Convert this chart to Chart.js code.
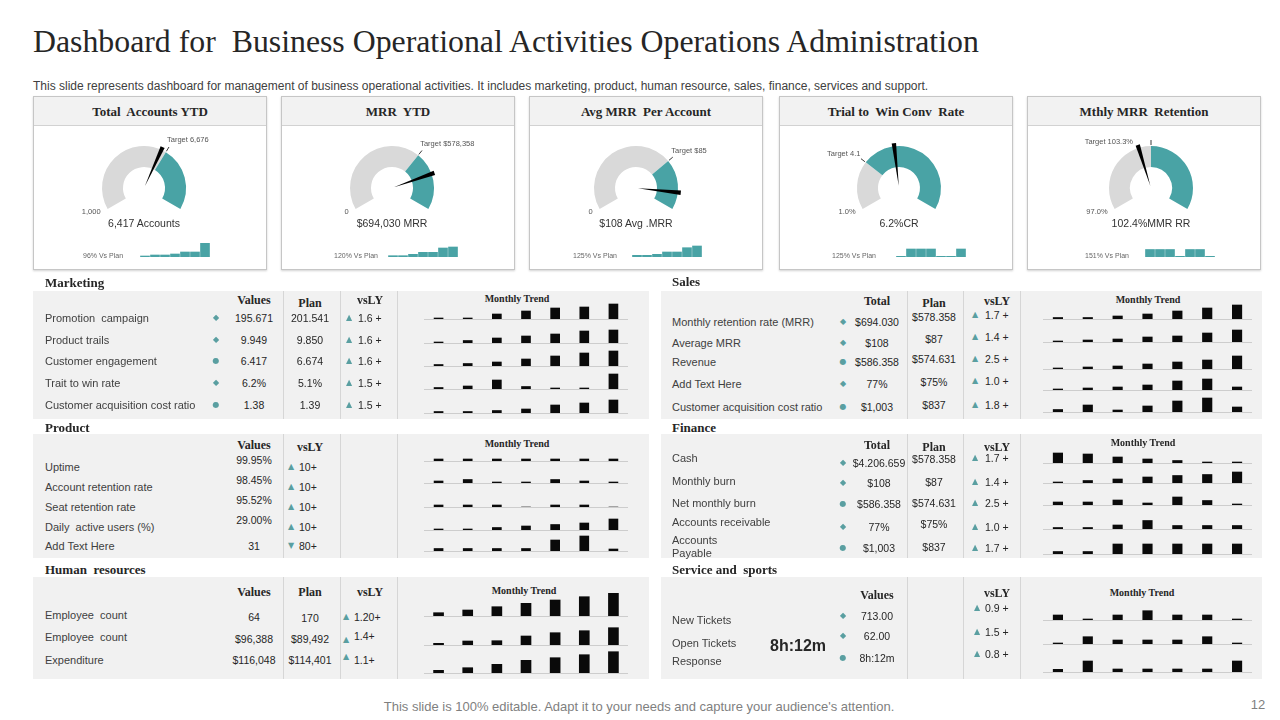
<!DOCTYPE html>
<html>
<head>
<meta charset="utf-8">
<title>Dashboard for Business Operational Activities</title>
<script src="https://cdn.jsdelivr.net/npm/chart.js@4.4.1/dist/chart.umd.min.js"></script>
<style>
  body { margin: 0; background: #fff; }
  #page { position: relative; width: 1280px; height: 720px; overflow: hidden;
          font-family: "Liberation Sans", Arial, sans-serif; color: #404040; }
  .t { position: absolute; white-space: pre; line-height: 1; }
  .h1 { font-family: "Liberation Serif", serif; font-size: 31.8px; color: #262626; }
  .sub { font-size: 12px; color: #404040; }
  .foot { font-size: 13px; color: #7f7f7f; }
  .card { position: absolute; border: 1px solid #c6c6c6; background: #fff; box-shadow: 0 1px 2px rgba(0,0,0,.18); box-sizing: border-box; }
  .cardhead { position: absolute; background: #f2f2f2; border-bottom: 1px solid #d2d2d2; }
  .ct { font-family: "Liberation Serif", serif; font-weight: bold; font-size: 13px; color: #262626; }
  .sec { font-family: "Liberation Serif", serif; font-weight: bold; font-size: 13px; color: #262626; }
  .hd { font-family: "Liberation Serif", serif; font-weight: bold; font-size: 12px; color: #262626; }
  .mt { font-family: "Liberation Serif", serif; font-weight: bold; font-size: 10px; color: #262626; }
  .lbl { font-size: 11px; color: #404040; }
  .num { font-size: 10.5px; color: #262626; }
  .big { font-size: 16px; font-weight: bold; color: #262626; }
  .mk { font-family: "DejaVu Sans", sans-serif; font-size: 8px; color: #5a9fa1; }
  .tri { font-family: "DejaVu Sans", sans-serif; font-size: 8px; color: #5a9fa1; }
  .gv { font-size: 10.5px; color: #333; }
  .gs { font-size: 7.5px; color: #555; }
  .gp { font-size: 7px; color: #666; }
  .panel { position: absolute; background: #f1f1f1; }
  .sep { position: absolute; background: #d6d6d6; }
</style>
</head>
<body>
<div id="page"></div>
<script>
// ---------- data ----------
const months = ['Jan', 'Feb', 'Mar', 'Apr', 'May', 'Jun', 'Jul'];

// KPI gauges
const gaugeTitles = ['Total  Accounts YTD', 'MRR  YTD', 'Avg MRR  Per Account', 'Trial to  Win Conv  Rate', 'Mthly MRR  Retention'];
const gaugeMin = [1000, 0, 0, 1.0, 97.0];
const gaugeMax = [10000, 875000, 120, 12, 109.6];
const gaugeTarget = [6676, 578358, 85, 4.1, 103.3];
const gaugeValue = [6417, 694030, 108, 6.2, 102.4];
const gaugeMinLabels = ['1,000', '0', '0', '1.0%', '97.0%'];
const gaugeTargetLabels = ['Target 6,676', 'Target $578,358', 'Target $85', 'Target 4.1', 'Target 103.3%'];
const gaugeValueLabels = ['6,417 Accounts', '$694,030 MRR', '$108 Avg .MRR', '6.2%CR', '102.4%MMR RR'];
const vsPlanLabels = ['96% Vs Plan', '120% Vs Plan', '125% Vs Plan', '125% Vs Plan', '151% Vs Plan'];
const kpiTrend = [
  [1, 2, 2, 3, 5, 5, 14],
  [1.3, 1.3, 2.7, 4.7, 4.7, 9, 10],
  [1.7, 1.7, 2.7, 5, 5, 9.3, 11],
  [0.7, 8, 8, 8, 0.7, 0.7, 8],
  [7.5, 7.5, 7.5, 0.7, 7.5, 7.5, 0.7]
];

// Marketing
const mktLabels = ['Promotion  campaign', 'Product trails', 'Customer engagement', 'Trait to win rate', 'Customer acquisition cost ratio'];
const mktMarks = ['◆', '◆', '●', '◆', '●'];
const mktValues = ['195.671', '9.949', '6.417', '6.2%', '1.38'];
const mktPlan = ['201.541', '9.850', '6.674', '5.1%', '1.39'];
const mktVsLY = ['1.6 +', '1.6 +', '1.6 +', '1.5 +', '1.5 +'];
const mktTrend = [
  [1, 1, 5, 8, 11, 12, 15],
  [1, 2.5, 5, 7, 9, 12, 13],
  [1.5, 2.5, 4, 7, 10, 13, 15],
  [1.5, 3, 9, 2.5, 1, 1, 15],
  [1.5, 1.5, 2.5, 4, 8, 10, 13]
];

// Sales
const salesLabels = ['Monthly retention rate (MRR)', 'Average MRR', 'Revenue', 'Add Text Here', 'Customer acquisition cost ratio'];
const salesMarks = ['◆', '◆', '●', '◆', '●'];
const salesTotal = ['$694.030', '$108', '$586.358', '77%', '$1,003'];
const salesPlan = ['$578.358', '$87', '$574.631', '$75%', '$837'];
const salesVsLY = ['1.7 +', '1.4 +', '2.5 +', '1.0 +', '1.8 +'];
const salesTrend = [
  [1.5, 1.5, 3, 5, 8, 11, 14],
  [1, 2, 3, 5, 6, 9, 12],
  [1, 2, 3, 5, 7, 9, 13],
  [1, 2, 3, 5, 9, 11, 3],
  [2.5, 7, 2, 6, 11, 14, 5]
];

// Product
const prodLabels = ['Uptime', 'Account retention rate', 'Seat retention rate', 'Daily  active users (%)', 'Add Text Here'];
const prodValues = ['99.95%', '98.45%', '95.52%', '29.00%', '31'];
const prodDir = ['▲', '▲', '▲', '▲', '▼'];
const prodVsLY = ['10+', '10+', '10+', '10+', '80+'];
const prodTrend = [
  [2, 2, 2, 2, 2, 2, 2],
  [2, 3.5, 1, 1, 3.5, 2, 1],
  [2, 2, 2, 0, 2, 2, 0],
  [1, 1, 2.5, 4, 5.5, 7, 11],
  [2.5, 2.5, 2.5, 2.5, 11, 15, 2]
];

// Finance
const finLabels = ['Cash', 'Monthly burn', 'Net monthly burn', 'Accounts receivable', 'Accounts\nPayable'];
const finMarks = ['◆', '◆', '●', '◆', '●'];
const finTotal = ['$4.206.659', '$108', '$586.358', '77%', '$1,003'];
const finPlan = ['$578.358', '$87', '$574.631', '$75%', '$837'];
const finVsLY = ['1.7 +', '1.4 +', '2.5 +', '1.0 +', '1.7 +'];
const finTrend = [
  [10, 9, 6, 4, 2.5, 1, 1],
  [1, 2.5, 4, 6, 7.5, 8.5, 11],
  [3, 3, 5, 2, 8, 4.5, 1],
  [1.5, 1.5, 4, 8.5, 3.5, 3.5, 3.5],
  [2.5, 2.5, 10, 10, 10, 10, 10]
];

// Human resources
const hrLabels = ['Employee  count', 'Employee  count', 'Expenditure'];
const hrValues = ['64', '$96,388', '$116,048'];
const hrPlan = ['170', '$89,492', '$114,401'];
const hrVsLY = ['1.20+', '1.4+', '1.1+'];
const hrTrend = [
  [3.3, 6, 9.3, 12.7, 16, 19.3, 22.7],
  [1.7, 4, 4.3, 9, 12.3, 14.3, 17.3],
  [2.7, 5.3, 8.7, 12.7, 15.3, 18.3, 21.3]
];

// Service and sports
const svcLabels = ['New Tickets', 'Open Tickets', 'Response'];
const svcMarks = ['◆', '◆', '●'];
const svcValues = ['713.00', '62.00', '8h:12m'];
const svcVsLY = ['0.9 +', '1.5 +', '0.8 +'];
const svcHeadline = '8h:12m';
const svcTrend = [
  [5, 1, 5, 9.3, 5, 5, 1],
  [1, 7.3, 4, 4, 4, 7.3, 1],
  [2.7, 11, 3, 3, 3, 3, 11]
];

// ---------- colours ----------
const TEAL = '#49a3a5';
const GREY = '#d9d9d9';
const BAR = '#0a0a0a';

// ---------- helpers ----------
const page = document.getElementById('page');

function txt(x, y, s, cls, align) {
  const d = document.createElement('div');
  d.className = 't ' + cls;
  d.textContent = s;
  const tx = align === 'c' ? '-50%' : align === 'r' ? '-100%' : '0';
  d.style.left = x + 'px';
  d.style.top = y + 'px';
  d.style.transform = 'translate(' + tx + ',-50%)';
  page.appendChild(d);
  return d;
}

function box(x, y, w, h, cls) {
  const d = document.createElement('div');
  d.className = cls;
  d.style.cssText = 'left:' + x + 'px;top:' + y + 'px;width:' + w + 'px;height:' + h + 'px;';
  page.appendChild(d);
  return d;
}

function canvasAt(x, y, w, h) {
  const c = document.createElement('canvas');
  c.width = w;
  c.height = h;
  c.style.cssText = 'position:absolute;left:' + x + 'px;top:' + y + 'px;width:' + w + 'px;height:' + h + 'px;';
  page.appendChild(c);
  return c;
}

// one row of monthly bars, the x axis border is the grey baseline
function trendBars(x, base, w, h, values, color, thick, showBase) {
  const c = canvasAt(x, base - h + 2, w, h);
  return new Chart(c, {
    type: 'bar',
    data: { labels: months, datasets: [{ data: values, backgroundColor: color, barThickness: thick }] },
    options: {
      responsive: false,
      animation: false,
      events: [],
      layout: { padding: { left: 0, right: 0, top: 0, bottom: 2 } },
      plugins: { legend: { display: false }, tooltip: { enabled: false } },
      scales: {
        x: {
          display: showBase,
          grid: { display: false, drawTicks: false },
          ticks: { display: false },
          border: { display: showBase, color: '#cdcdcd' }
        },
        y: { display: false, min: 0, max: h - 2 }
      }
    }
  });
}

function panel(x0, x1, y0, y1, seps) {
  box(x0, y0, x1 - x0, y1 - y0, 'panel');
  seps.forEach(s => box(s, y0, 1, y1 - y0, 'sep'));
}

function column(vals, ys, x, cls, align) {
  vals.forEach((v, i) => txt(x, ys[i], v, cls, align));
}

function vsly(vals, dirs, triYs, textYs, triX, textX) {
  vals.forEach((v, i) => {
    txt(triX, triYs[i], dirs[i] || '▲', 'tri', 'c');
    txt(textX, textYs[i], v, 'num', 'l');
  });
}

function trendRows(rows, bases, x, w, h, thick) {
  rows.forEach((r, i) => trendBars(x, bases[i], w, h, r, BAR, thick, true));
}

// ---------- header ----------
txt(33, 42, 'Dashboard for  Business Operational Activities Operations Administration', 'h1', 'l');
txt(33, 86, 'This slide represents dashboard for management of business operational activities. It includes marketing, product, human resource, sales, finance, services and support.', 'sub', 'l');

// ---------- KPI cards ----------
const cardX = [33, 281, 529, 779, 1027];
const cardY = 96, cardW = 234, cardH = 174;
const gaugeDx = [111, 111, 107, 120, 124];
const gaugeCy = 188, R = 42;
const barDx = [107, 107, 103, 117, 118];
const planDx = [50, 53, 44, 53, 58];

function gauge(i) {
  const cx = cardX[i] + gaugeDx[i];
  const W = 200, H = 110, padT = 20;
  const padX = (W - 2 * R) / 2;
  const left = cx - W / 2, top = gaugeCy - padT - R;
  const c = canvasAt(left, top, W, H);
  const lo = gaugeMin[i], hi = gaugeMax[i];

  function angleOf(meta, v) {
    const a0 = meta.data[0], a1 = meta.data[1];
    return a0.startAngle + (a1.endAngle - a0.startAngle) * (v - lo) / (hi - lo);
  }

  const needle = {
    id: 'needle',
    afterDatasetsDraw(chart) {
      const meta = chart.getDatasetMeta(0);
      const a0 = meta.data[0];
      const x = a0.x, y = a0.y, r = a0.outerRadius;
      const ctx = chart.ctx;
      ctx.save();
      // target tick
      const t = angleOf(meta, gaugeTarget[i]);
      ctx.strokeStyle = '#3a3a3a';
      ctx.lineWidth = 1;
      ctx.beginPath();
      ctx.moveTo(x + Math.cos(t) * (r + 1), y + Math.sin(t) * (r + 1));
      ctx.lineTo(x + Math.cos(t) * (r + 6), y + Math.sin(t) * (r + 6));
      ctx.stroke();
      // needle
      const n = angleOf(meta, gaugeValue[i]);
      const L = r + 3, hw = 2.2;
      const px = -Math.sin(n), py = Math.cos(n);
      ctx.fillStyle = '#000';
      ctx.beginPath();
      ctx.moveTo(x + Math.cos(n) * 2, y + Math.sin(n) * 2);
      ctx.lineTo(x + Math.cos(n) * L + px * hw, y + Math.sin(n) * L + py * hw);
      ctx.lineTo(x + Math.cos(n) * L - px * hw, y + Math.sin(n) * L - py * hw);
      ctx.closePath();
      ctx.fill();
      ctx.restore();
    }
  };

  const chart = new Chart(c, {
    type: 'doughnut',
    data: {
      labels: ['To target', 'Above target'],
      datasets: [{
        data: [gaugeTarget[i] - lo, hi - gaugeTarget[i]],
        backgroundColor: [GREY, TEAL],
        borderWidth: 0
      }]
    },
    options: {
      responsive: false,
      animation: false,
      events: [],
      cutout: '50%',
      circumference: 240,
      rotation: -120,
      layout: { padding: { left: padX, right: padX, top: padT, bottom: H - padT - 1.5 * R } },
      plugins: { legend: { display: false }, tooltip: { enabled: false } }
    },
    plugins: [needle]
  });

  // labels placed from the drawn arcs
  const meta = chart.getDatasetMeta(0);
  const a0 = meta.data[0];
  const ox = left + a0.x, oy = top + a0.y, r = a0.outerRadius;
  const t = angleOf(meta, gaugeTarget[i]);
  const dx = Math.cos(t), dy = Math.sin(t);
  const qx = ox + dx * (r + 8), qy = oy + dy * (r + 8);
  if (dx > 0.25) txt(qx - 3, qy - 5, gaugeTargetLabels[i], 'gs', 'l');
  else if (dx < -0.25) txt(qx + 1, qy - 3, gaugeTargetLabels[i], 'gs', 'r');
  else txt(qx - 18, qy + 4, gaugeTargetLabels[i], 'gs', 'r');

  const s = a0.startAngle;
  txt(ox + Math.cos(s) * r - 7, oy + Math.sin(s) * r + 3, gaugeMinLabels[i], 'gs', 'r');
  txt(ox, 223, gaugeValueLabels[i], 'gv', 'c');
}

cardX.forEach((x, i) => {
  box(x, cardY, cardW, cardH, 'card');
  box(x + 1, cardY + 1, cardW - 2, 28, 'cardhead');
  txt(x + cardW / 2, 111, gaugeTitles[i], 'ct', 'c');
  gauge(i);
  txt(x + planDx[i], 255, vsPlanLabels[i], 'gp', 'l');
  trendBars(x + barDx[i], 257, 70, 16, kpiTrend[i], TEAL, 9, false);
});

// ---------- left column ----------
const L_SEPS = [283, 340, 397];
const L_TREND_X = 424, L_TREND_W = 204;

// Marketing
txt(45, 282, 'Marketing', 'sec', 'l');
panel(33, 649, 291, 419, L_SEPS);
txt(254, 300, 'Values', 'hd', 'c');
txt(310, 302.5, 'Plan', 'hd', 'c');
txt(370, 300, 'vsLY', 'hd', 'c');
txt(517, 299, 'Monthly Trend', 'mt', 'c');
const mktY = [318, 339.7, 361.3, 383, 404.7];
column(mktLabels, mktY, 45, 'lbl', 'l');
column(mktMarks, mktY, 216, 'mk', 'c');
column(mktValues, mktY, 254, 'num', 'c');
column(mktPlan, mktY, 310, 'num', 'c');
vsly(mktVsLY, [], mktY, mktY, 349, 358);
trendRows(mktTrend, [319.3, 342.7, 365.7, 389.3, 412.7], L_TREND_X, L_TREND_W, 18, 9);

// Product
txt(45, 427, 'Product', 'sec', 'l');
panel(33, 649, 434, 558, L_SEPS);
txt(254, 445, 'Values', 'hd', 'c');
txt(310, 446.5, 'vsLY', 'hd', 'c');
txt(517, 444, 'Monthly Trend', 'mt', 'c');
const prodY = [466.7, 486.7, 506.7, 526.7, 546];
const prodValY = [460, 480, 500, 520, 546];
column(prodLabels, prodY, 45, 'lbl', 'l');
column(prodValues, prodValY, 254, 'num', 'c');
vsly(prodVsLY, prodDir, prodY, prodY, 291, 299);
trendRows(prodTrend, [460.7, 483.3, 507.3, 530, 550.7], L_TREND_X, L_TREND_W, 18, 9);

// Human resources
txt(45, 569, 'Human  resources', 'sec', 'l');
panel(33, 649, 577, 679, L_SEPS);
txt(254, 591.5, 'Values', 'hd', 'c');
txt(310, 591.5, 'Plan', 'hd', 'c');
txt(370, 591.5, 'vsLY', 'hd', 'c');
txt(524, 590.7, 'Monthly Trend', 'mt', 'c');
const hrY = [615, 637.3, 660];
column(hrLabels, hrY, 45, 'lbl', 'l');
column(hrValues, [616.7, 639, 660], 254, 'num', 'c');
column(hrPlan, [618.3, 639, 660], 310, 'num', 'c');
vsly(hrVsLY, [], [617, 640, 656.7], [617.3, 636, 660], 346, 354);
trendRows(hrTrend, [616, 645, 673.3], L_TREND_X, L_TREND_W, 26, 10);

// ---------- right column ----------
const R_SEPS = [907, 963, 1020];
const R_TREND_X = 1043, R_TREND_W = 209;

// Sales
txt(672, 281, 'Sales', 'sec', 'l');
panel(661, 1262, 291, 419, R_SEPS);
txt(877, 301.3, 'Total', 'hd', 'c');
txt(934, 302.7, 'Plan', 'hd', 'c');
txt(997, 301.3, 'vsLY', 'hd', 'c');
txt(1148, 300.3, 'Monthly Trend', 'mt', 'c');
const salesY = [322, 342.7, 362, 383.7, 407];
column(salesLabels, salesY, 672, 'lbl', 'l');
column(salesMarks, salesY, 843, 'mk', 'c');
column(salesTotal, salesY, 877, 'num', 'c');
column(salesPlan, [317, 338.7, 359.3, 382, 405.3], 934, 'num', 'c');
vsly(salesVsLY, [], [315, 337, 359, 381, 404.7], [315, 337, 359, 381, 404.7], 975, 985);
trendRows(salesTrend, [318.7, 342, 368.7, 389.7, 412], R_TREND_X, R_TREND_W, 18, 9.5);

// Finance
txt(672, 427, 'Finance', 'sec', 'l');
panel(661, 1262, 434, 558, R_SEPS);
txt(877, 445, 'Total', 'hd', 'c');
txt(934, 447.3, 'Plan', 'hd', 'c');
txt(997, 446.5, 'vsLY', 'hd', 'c');
txt(1143, 443, 'Monthly Trend', 'mt', 'c');
const finLabelY = [459.3, 481.7, 504, 522.7, 546.7];
const finTotY = [462.7, 483.3, 504, 526.7, 548];
finLabels.forEach((s, i) => {
  const d = txt(672, finLabelY[i], s, 'lbl', 'l');
  d.style.lineHeight = '1.2';
});
column(finMarks, finTotY, 843, 'mk', 'c');
column(finTotal, finTotY, 879, 'num', 'c');
column(finPlan, [459.3, 481.7, 503.3, 524, 546.7], 934, 'num', 'c');
vsly(finVsLY, [], [458, 481.7, 503.3, 526.7, 548], [458, 481.7, 503.3, 526.7, 548], 975, 985);
trendRows(finTrend, [463.3, 483.3, 505, 529.3, 554.3], R_TREND_X, R_TREND_W, 18, 9.5);

// Service and sports
txt(672, 569, 'Service and  sports', 'sec', 'l');
panel(661, 1262, 577, 679, R_SEPS);
txt(877, 595, 'Values', 'hd', 'c');
txt(997, 593.3, 'vsLY', 'hd', 'c');
txt(1142, 592.7, 'Monthly Trend', 'mt', 'c');
column(svcLabels, [620, 643.3, 660.7], 672, 'lbl', 'l');
txt(798, 646, svcHeadline, 'big', 'c');
const svcValY = [616, 636, 658.3];
column(svcMarks, svcValY, 843, 'mk', 'c');
column(svcValues, svcValY, 877, 'num', 'c');
vsly(svcVsLY, [], [608, 631.7, 654], [608, 631.7, 654], 977, 985);
trendRows(svcTrend, [620, 644, 671.7], R_TREND_X, R_TREND_W, 18, 9.5);

// ---------- footer ----------
txt(639, 706, 'This slide is 100% editable. Adapt it to your needs and capture your audience\'s attention.', 'foot', 'c');
txt(1258, 704, '12', 'foot', 'c');
</script>
</body>
</html>
